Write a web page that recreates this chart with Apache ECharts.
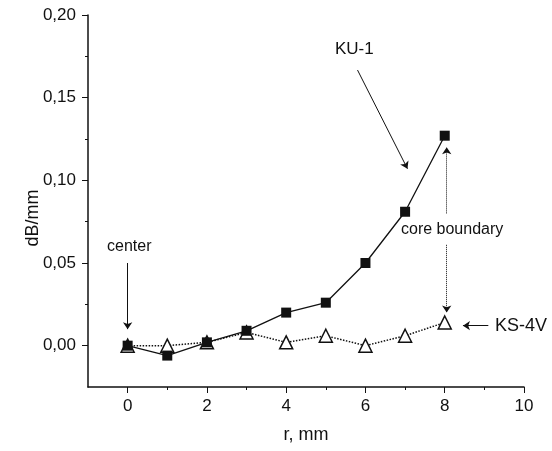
<!DOCTYPE html>
<html>
<head>
<meta charset="utf-8">
<script src="https://cdn.jsdelivr.net/npm/echarts@6/dist/echarts.min.js"></script>
<style>
  html, body { margin: 0; padding: 0; background: #fff; }
  #chart { width: 552px; height: 451px; }
</style>
</head>
<body>
<div id="chart"></div>
<script>
// radius positions, mm
const radius = [0, 1, 2, 3, 4, 5, 6, 7, 8]
// attenuation, dB/mm
const ku1 = [0.000, -0.006, 0.002, 0.009, 0.020, 0.026, 0.050, 0.081, 0.127]
const ks4v = [0.000, 0.000, 0.002, 0.008, 0.002, 0.006, 0.000, 0.006, 0.014]
const xTicks = [0, 2, 4, 6, 8, 10]
const xMinor = [1, 3, 5, 7, 9]
const yTicks = [0, 0.05, 0.1, 0.15, 0.2]
const yMinor = [0.025, 0.075, 0.125, 0.175]

const font = 'Liberation Sans, Arial, sans-serif'
const ink = '#111'

const chart = echarts.init(document.getElementById('chart'))

const pairs = (ys) => radius.map((r, i) => [r, ys[i]])
const fmtY = (v) => v.toFixed(2).replace('.', ',')

// annotation arrows in data coordinates
const arrow = (from, to, dotted) => [
  { coord: from, symbol: 'none', lineStyle: { type: dotted ? 'dotted' : 'solid' } },
  { coord: to, symbol: 'arrow' }
]

const baseX = {
  type: 'value', min: -1, max: 10, gridIndex: 0,
  splitLine: { show: false }
}
const baseY = {
  type: 'value', min: -0.025, max: 0.2, gridIndex: 0,
  splitLine: { show: false }
}

const option = {
  animation: false,
  backgroundColor: '#fff',
  grid: { left: 88, right: 28, top: 15, bottom: 64 },
  xAxis: [
    Object.assign({}, baseX, {
      name: 'r, mm',
      nameLocation: 'middle',
      nameGap: 39,
      nameTextStyle: { fontFamily: font, fontSize: 18, color: ink },
      axisLine: { onZero: false, lineStyle: { color: ink, width: 1.5 } },
      axisTick: { customValues: xTicks, length: 6, lineStyle: { color: ink } },
      axisLabel: { customValues: xTicks, margin: 11, fontFamily: font, fontSize: 17, color: ink }
    }),
    Object.assign({}, baseX, {
      position: 'bottom',
      axisLine: { show: false, onZero: false },
      axisTick: { customValues: xMinor, length: 3, lineStyle: { color: ink } },
      axisLabel: { show: false }
    })
  ],
  yAxis: [
    Object.assign({}, baseY, {
      axisLine: { onZero: false, lineStyle: { color: ink, width: 1.5 } },
      axisTick: { customValues: yTicks, length: 6, lineStyle: { color: ink } },
      axisLabel: { customValues: yTicks, margin: 12, fontFamily: font, fontSize: 17, color: ink, formatter: fmtY }
    }),
    Object.assign({}, baseY, {
      position: 'left',
      axisLine: { show: false, onZero: false },
      axisTick: { customValues: yMinor, length: 3, lineStyle: { color: ink } },
      axisLabel: { show: false }
    })
  ],
  graphic: [
    // y axis title sits a bit below the axis middle in the original
    { type: 'text', x: 33, y: 218, rotation: Math.PI / 2,
      style: { text: 'dB/mm', font: '18px ' + font, fill: ink, align: 'center', verticalAlign: 'middle' } },
    { type: 'text', left: 107, top: 239, style: { text: 'center', font: '16px ' + font, fill: ink } },
    { type: 'text', left: 335, top: 41, style: { text: 'KU-1', font: '17px ' + font, fill: ink } },
    { type: 'text', left: 401, top: 222, style: { text: 'core boundary', font: '16px ' + font, fill: ink } },
    { type: 'text', left: 495, top: 317, style: { text: 'KS-4V', font: '18px ' + font, fill: ink } }
  ],
  series: [
    {
      name: 'KS-4V',
      type: 'line',
      data: pairs(ks4v),
      symbol: 'triangle',
      symbolSize: 13,
      itemStyle: { color: '#fff', borderColor: ink, borderWidth: 1.5 },
      lineStyle: { color: ink, width: 1.5, type: 'dotted' },
      z: 2
    },
    {
      name: 'KU-1',
      type: 'line',
      data: pairs(ku1),
      symbol: 'rect',
      symbolSize: 10,
      itemStyle: { color: ink },
      lineStyle: { color: ink, width: 1.3 },
      z: 3
    },
    {
      name: 'notes',
      type: 'line',
      data: [],
      markLine: {
        silent: true,
        symbolSize: 7,
        label: { show: false },
        lineStyle: { color: ink, width: 1 },
        data: [
          arrow([0, 0.050], [0, 0.010], false),
          arrow([5.8, 0.1667], [7.06, 0.107], false),
          arrow([8.05, 0.080], [8.05, 0.120], true),
          arrow([8.05, 0.061], [8.05, 0.020], true),
          arrow([9.1, 0.0121], [8.46, 0.0121], false)
        ]
      }
    }
  ]
}

chart.setOption(option)
</script>
</body>
</html>
